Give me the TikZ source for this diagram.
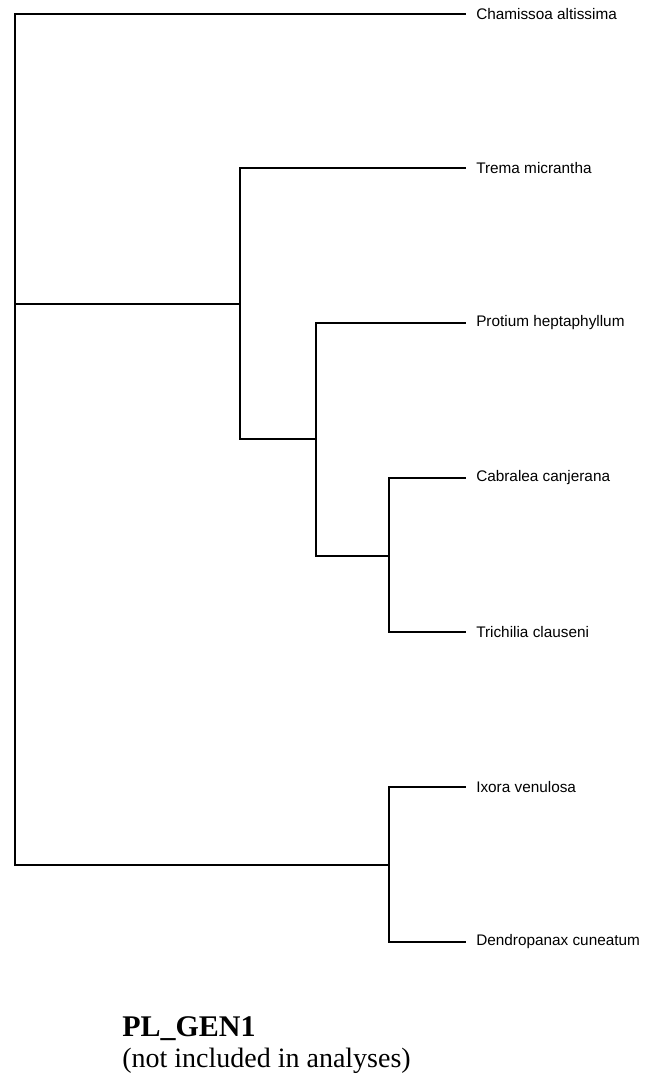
\documentclass[tikz,border=0pt]{standalone}
\usepackage{fontspec}
\setmainfont{Liberation Serif}
\setsansfont{Liberation Sans}
\usetikzlibrary{positioning}

\begin{document}
\begin{tikzpicture}[x=0.75pt,y=-0.75pt,
every node/.style={inner sep=0pt},
tip/.style={anchor=west,font=\sffamily\fontsize{11.5}{13}\selectfont,inner xsep=7.5pt},
branch/.style={draw=black,line width=2.2pt,line join=miter}]
\useasboundingbox (0,0) rectangle (666,1082);
% internal nodes
\coordinate (r) at (15,304);
\coordinate (a) at (240,304);
\coordinate (b) at (316,439);
\coordinate (c) at (389,556);
\coordinate (d) at (389,865);
% tips
\node[tip] (cha) at (466,14) {Chamissoa altissima};
\node[tip] (tre) at (466,168) {Trema micrantha};
\node[tip] (pro) at (466,323) {Protium heptaphyllum};
\node[tip] (cab) at (466,478) {Cabralea canjerana};
\node[tip] (tri) at (466,632) {Trichilia clauseni};
\node[tip] (ixo) at (466,787) {Ixora venulosa};
\node[tip] (den) at (466,942) {Dendropanax cuneatum};
\draw[branch] (r) |- (cha.west);\draw[branch] (r) -- (a);\draw[branch] (r) |- (d);
\draw[branch] (a) |- (tre.west);\draw[branch] (a) |- (b);
\draw[branch] (b) |- (pro.west);\draw[branch] (b) |- (c);
\draw[branch] (c) |- (cab.west);\draw[branch] (c) |- (tri.west);
\draw[branch] (d) |- (ixo.west);\draw[branch] (d) |- (den.west);
% caption
\node[anchor=base west,font=\bfseries\fontsize{22.5}{26}\selectfont] (name) at (122,1036) {PL\_GEN1};
\node[anchor=base west,font=\fontsize{21}{25}\selectfont] (note) at (122,1067) {(not included in analyses)};
\end{tikzpicture}
\end{document}
